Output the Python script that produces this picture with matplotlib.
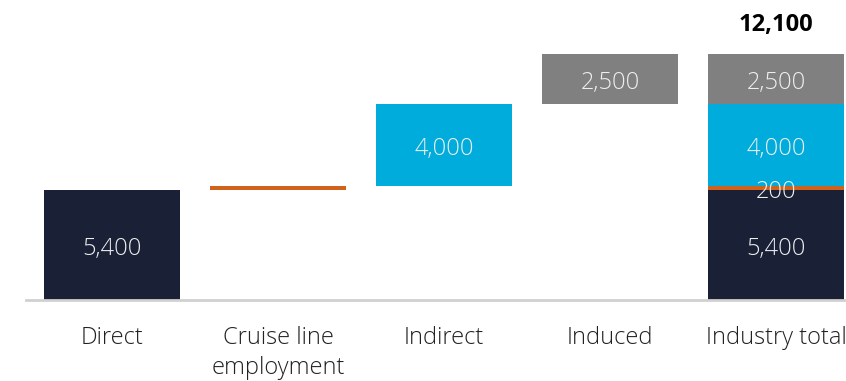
import matplotlib.pyplot as plt

plt.rcParams['font.family'] = ['Open Sans', 'DejaVu Sans']

# waterfall data
categories = ['Direct', 'Cruise line\nemployment', 'Indirect', 'Induced', 'Industry total']
components = ['Direct', 'Cruise line employment', 'Indirect', 'Induced']
values = [5400, 200, 4000, 2500]
value_labels = ['5,400', '200', '4,000', '2,500']
colors = ['#1a2035', '#d0621b', '#00acdc', '#808080']
total_label = '12,100'

fig = plt.figure(figsize=(8.46, 3.81), dpi=100)
ax = fig.add_axes([26 / 846, 81 / 381, 820 / 846, 300 / 381])

width = 0.82
total = sum(values)
bottom = 0
for i, (v, c, lab) in enumerate(zip(values, colors, value_labels)):
    # floating step bar
    ax.bar(i, v, bottom=bottom, width=width, color=c)
    # same piece stacked in the total column
    ax.bar(len(values), v, bottom=bottom, width=width, color=c)
    cols = [len(values)] if i == 1 else [i, len(values)]
    for x in cols:
        ax.annotate(lab, (x, bottom + v / 2), xytext=(0, -3), textcoords='offset points',
                    ha='center', va='center', color='#eeeeee', fontsize=17, fontweight='light')
    bottom += v

ax.annotate(total_label, (len(values), total), xytext=(0, 12), textcoords='offset points',
            ha='center', va='bottom', fontsize=17, fontweight='bold', color='black')

ax.set_xlim(-0.518, 4.422)
ax.set_ylim(0, 14727)
ax.set_xticks(range(len(categories)))
ax.set_xticklabels(categories, fontsize=17, color='#222222', linespacing=1.3,
                   fontweight='light')
ax.tick_params(axis='x', length=0, pad=19)
ax.set_yticks([])
for s in ['top', 'right', 'left']:
    ax.spines[s].set_visible(False)
ax.spines['bottom'].set_color('#d0d0d0')
ax.spines['bottom'].set_linewidth(2)

plt.savefig('out.png', dpi=100)
